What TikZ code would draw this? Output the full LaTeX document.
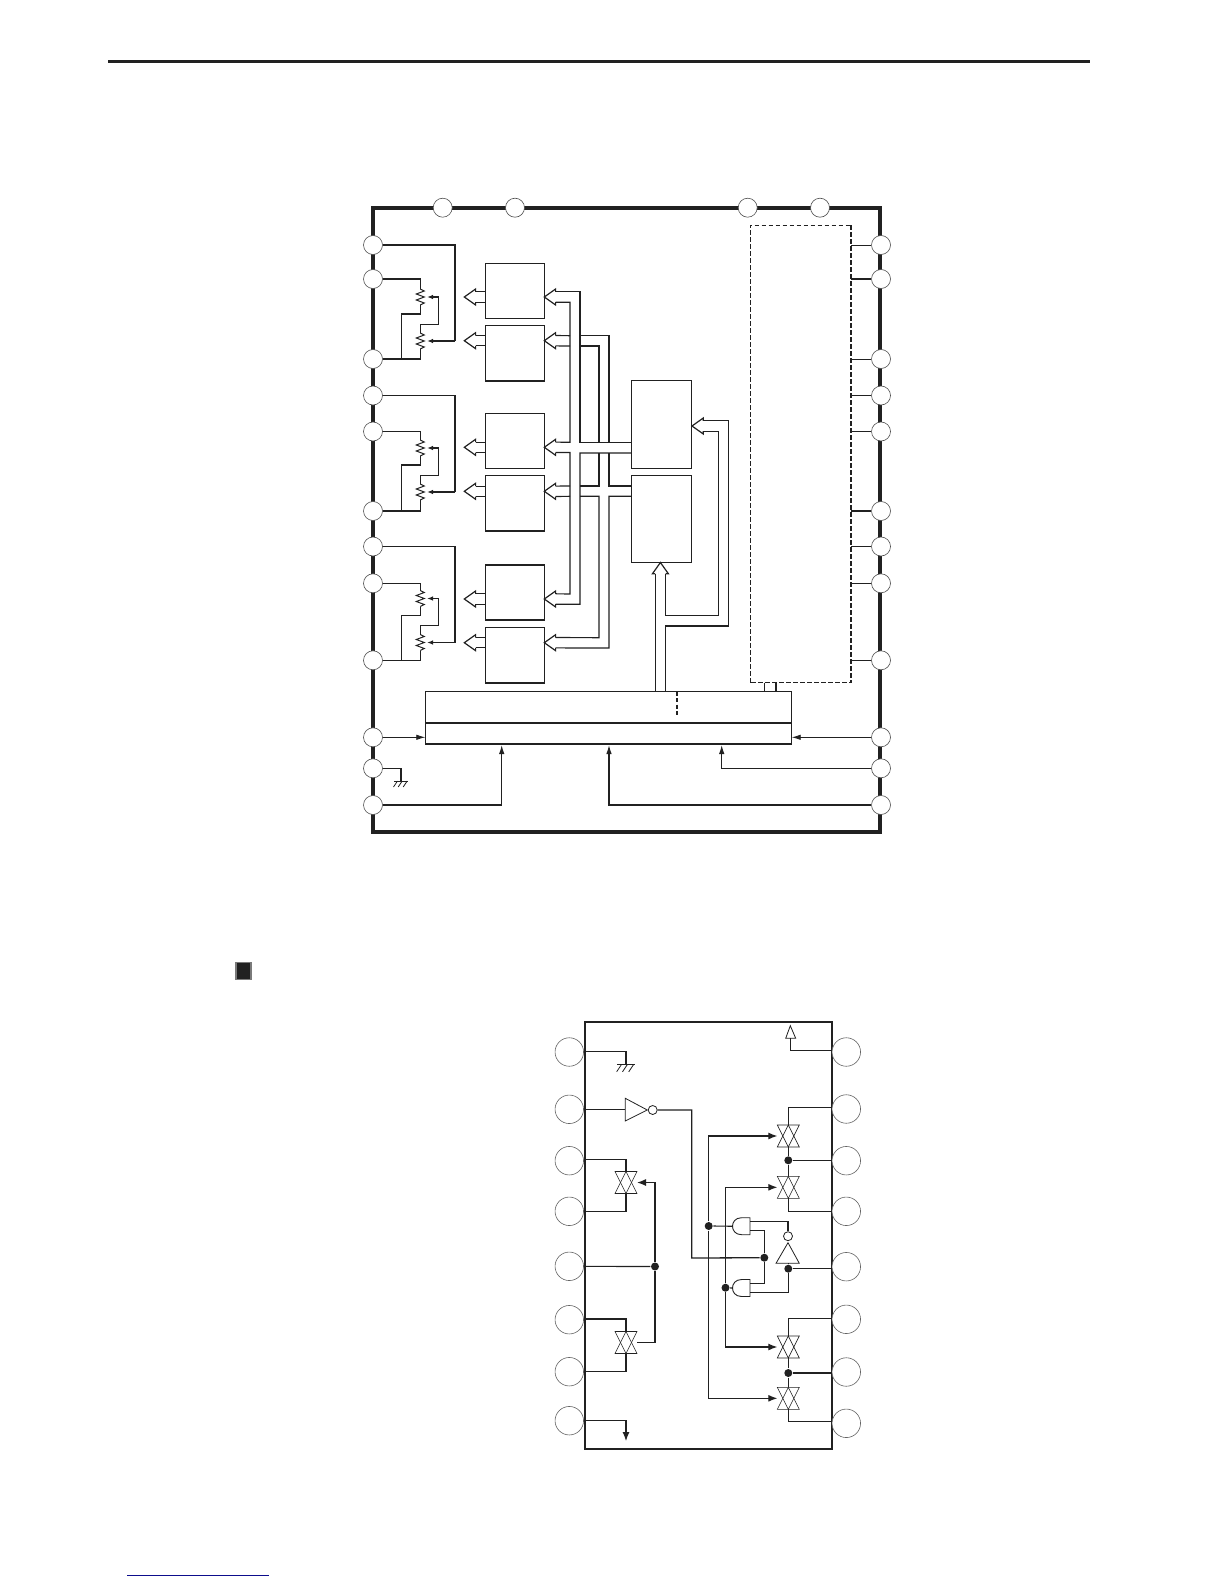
\documentclass[tikz,border=0pt]{standalone}
\usepackage{xcolor}
\usepackage{tikz}
\usetikzlibrary{arrows.meta}
\definecolor{ink}{gray}{0.13}
\definecolor{linkblue}{rgb}{0.05,0.05,0.55}

\begin{document}
\begin{tikzpicture}[x=1pt,y=-1pt,color=ink,line width=1.15pt,line join=miter]
    \tikzstyle{pin}=[circle,draw=ink!80,fill=white,line width=0.6pt,minimum size=19pt,inner sep=0pt]
    \tikzstyle{bigpin}=[circle,draw=ink!70,fill=white,line width=0.6pt,minimum size=28.5pt,inner sep=0pt]
    \tikzstyle{blockbox}=[rectangle,draw,line width=1.1pt,anchor=north west,inner sep=0pt,outer sep=0pt]
    \tikzstyle{dot}=[circle,fill=ink,minimum size=8pt,inner sep=0pt]
    \tikzstyle{bubble}=[circle,draw,fill=white,line width=0.8pt,minimum size=9pt,inner sep=0pt]
    \tikzstyle{tip}=[-{Latex[length=6pt,width=4.5pt]}]
    \tikzstyle{bigtip}=[-{Latex[length=9pt,width=5.5pt]}]
    \tikzstyle{swtip}=[-{Latex[length=9pt,width=7pt]}]
    \tikzset{
        hollowhead/.pic={
            \draw[line width=1.2pt] (11.3,-5.2) -- (11.3,-8) -- (0,0) -- (11.3,8) -- (11.3,5.2);
            \coordinate (-up) at (11.3,-5.2);
            \coordinate (-dn) at (11.3,5.2);
        },
        zigzag/.pic={
            \draw[line width=1pt] (0,-8) -- (4,-6) -- (-4,-3) -- (4,0) -- (-4,3) -- (4,6) -- (0,8);
        },
        earth/.pic={
            \draw[line width=1pt] (-7,0) -- (7,0);
            \foreach \k in {-3.5,1.2,6.2} {\draw[line width=0.8pt] (\k,0) -- (\k-4,6);};
        },
        swgate/.pic={
            \draw[line width=0.6pt] (-11,-11) -- (11,-11) -- (0,11) -- cycle;
            \draw[line width=0.6pt] (-11,11) -- (11,11) -- (0,-11) -- cycle;
            \coordinate (-top) at (0,-11);
            \coordinate (-bot) at (0,11);
            \coordinate (-west) at (-11,0);
            \coordinate (-east) at (11,0);
        },
        andgate/.pic={
            \draw[line width=0.9pt] (8.8,-8.5) -- (0.5,-8.5) .. controls (-6,-8.5) and (-8.7,-4) .. (-8.7,0)
                .. controls (-8.7,4) and (-6,8.5) .. (0.5,8.5) -- (8.8,8.5) -- cycle;
            \coordinate (-in) at (-8.7,0);
            \coordinate (-a) at (8.8,-4.9);
            \coordinate (-b) at (8.8,4.4);
        }
    }
    \useasboundingbox (0,0) rectangle (1224,1584);

    % page furniture
    \coordinate (ruleL) at (108,62);
    \coordinate (ruleR) at (1090,62);
    \draw[line width=3pt] (ruleL) -- (ruleR);
    \node[rectangle,fill=ink,draw=ink!60,minimum width=15pt,minimum height=16.5pt,inner sep=0pt] (bullet) at (243.5,971) {};
    \coordinate (linkL) at (127,1575);
    \coordinate (linkR) at (269,1575);
    \draw[linkblue,line width=1pt] (linkL) -- (linkR);

    % upper package
    \node[rectangle,draw,line width=3.8pt,minimum width=507pt,minimum height=624pt,anchor=north west,inner sep=0pt,outer sep=0pt] (chip) at (373,207.7) {};
    \foreach \i/\x in {1/442.7,2/515,3/747.7,4/820} {
        \node[pin] (pinT\i) at (\x,207.7) {};
    };
    \foreach \i/\y in {1/245,2/279,3/359,4/395.5,5/431.5,6/511,7/546.5,8/583.3,9/660.3,10/737.3,11/768.3,12/805} {
        \node[pin] (pinL\i) at (373,\y) {};
        \node[pin] (pinR\i) at (881,\y) {};
    };

    % volume networks
    \foreach \a/\b/\c/\o/\w in {1/2/3/0/1.1,4/5/6/151/1.1,7/8/9/301.5/1.6} {
        \begin{scope}[shift={(0,\o)}]
            \draw[line width=\w pt] (pinL\a) -| (455,341);
            \draw[tip] (455,341) -- (427,341);
            \draw (pinL\b) -| (420.3,289);
            \pic at (420.3,297) {zigzag};
            \draw (420.3,305) -- (420.3,314) -- (401.7,314) -- (401.7,359);
            \draw (pinL\c) -| (420.3,349);
            \pic at (420.3,341) {zigzag};
            \draw[tip] (420.3,333) -- (420.3,324.3) -- (438.3,324.3) -- (438.3,297) -- (427,297);
        \end{scope}
    };

    % converter blocks
    \foreach \n/\t/\h/\y in {A/263.3/55/297,B/325.3/55.7/340.7,C/413.3/55/447.3,D/475.7/55.3/491.3,E/565/55/599,F/627.3/55.7/642.7} {
        \node[blockbox,minimum width=59pt,minimum height=\h pt] (block\n) at (485.3,\t) {};
        \pic (in\n) at (544.3,\y) {hollowhead};
        \pic (out\n) at (464.3,\y) {hollowhead};
        \draw (out\n-up) -- (out\n-up -| block\n.west);
        \draw (out\n-dn) -- (out\n-dn -| block\n.west);
    };
    \node[blockbox,minimum width=59.6pt,minimum height=88pt] (regU) at (631.7,380.7) {};
    \node[blockbox,minimum width=59.6pt,minimum height=86.6pt] (regL) at (631.7,475.7) {};
    \pic (inU) at (692,426) {hollowhead};
    \pic[rotate=-90] (inL) at (660.4,562.5) {hollowhead};

    % serial interface bar
    \node[blockbox,minimum width=366.4pt,minimum height=52.3pt] (bar) at (425.3,691.7) {};
    \coordinate (barmidL) at (425.3,722.7);
    \coordinate (barmidR) at (791.7,722.7);
    \draw[line width=1.6pt] (barmidL) -- (barmidR);
    \draw[line width=1.6pt] (bar.south west) -- (bar.south east);
    \draw[dash pattern=on 4pt off 2.5pt,line width=1.3pt] (677,691.7) -- (677,717);

    % buses
    \draw (inA-up) -| (580,442.3) -- (regU.west |- 0,442.3);
    \draw (inA-dn) -| (570,442.3) -- (inC-up);
    \draw (inC-dn) -| (570,594) -- (inE-up);
    \draw (regU.west |- 0,453) -| (580,604.3) -- (inE-dn);
    \draw (inB-up) -- (570,335.7);
    \draw (inB-dn) -- (570,346);
    \draw (580,335.7) -| (609,442.3);
    \draw (580,346) -| (599,442.3);
    \draw (inD-up) -- (570,486);
    \draw (inD-dn) -- (570,496.3);
    \draw (599,453) |- (580,486);
    \draw (580,496.3) -| (599,637.7) -- (inF-up);
    \draw (609,453) |- (regL.west |- 0,486);
    \draw (regL.west |- 0,496.3) -| (609,648) -- (inF-dn);
    \draw (inU-up) -| (728.3,626) -| (inL-up |- bar.north);
    \draw (inU-dn) -| (718.3,615.7) -| (inL-up);
    \draw (inL-dn) -- (inL-dn |- bar.north);

    % dashed section
    \node[rectangle,minimum width=100.7pt,minimum height=457.7pt,anchor=north west,inner sep=0pt,outer sep=0pt] (amp) at (750.3,225) {};
    \draw[dash pattern=on 4.5pt off 2.5pt,line width=0.9pt] (amp.south west) -- (amp.north west) -- (amp.north east);
    \draw[dash pattern=on 4.5pt off 2.5pt,line width=1.5pt] (amp.north east) -- (amp.south east) -- (amp.south west);
    \foreach \i/\w in {1/0.8,2/1.5,3/0.8,4/0.8,5/0.8,6/1.5,7/1.5,8/1.5,9/1.5} {
        \draw[line width=\w pt] (pinR\i) -- (pinR\i -| amp.east);
    };
    \draw (764.7,682.7) -- (764.7,691.7);
    \draw (776,682.7) -- (776,691.7);

    % pins to the bar
    \draw[bigtip,line width=0.8pt] (pinL10) -- (pinL10 -| bar.west);
    \draw[bigtip,line width=0.8pt] (pinR10) -- (pinR10 -| bar.east);
    \draw[bigtip] (pinL12) -| (501.7,745);
    \draw[bigtip] (pinR12) -| (609,745);
    \draw[bigtip] (pinR11) -| (721.7,745);
    \draw (pinL11) -| (401,781);
    \pic at (401,781) {earth};

    % lower package
    \node[rectangle,draw,line width=1.7pt,minimum width=247.3pt,minimum height=426.4pt,anchor=north west,inner sep=0pt,outer sep=0pt] (sw) at (585,1022.3) {};
    \foreach \i/\y in {1/1052,2/1109.3,3/1160.7,4/1211.3,5/1266.3,6/1319.7,7/1371.7,8/1420.7} {
        \node[bigpin] (lpin\i) at (569.3,\y) {};
    };
    \foreach \i/\y in {1/1052,2/1109,3/1160.7,4/1211.3,5/1266.7,6/1319.3,7/1372,8/1423.3} {
        \node[bigpin] (rpin\i) at (846.3,\y) {};
    };

    % lower package, left half
    \draw (lpin1.east |- 0,1051.3) -| (626,1064.3);
    \pic[scale=1.25] at (626,1064.3) {earth};
    \draw[line width=0.8pt] (625.3,1098.3) -- (625.3,1121) -- (647.3,1110) -- cycle;
    \node[bubble] (bubA) at (652.7,1110) {};
    \draw (lpin2) -- (625.3,1109.3);
    \pic (swA) at (626,1182.5) {swgate};
    \pic (swB) at (626,1342.5) {swgate};
    \draw[line width=1.4pt] (lpin3.east |- 0,1159.3) -| (swA-top);
    \draw (lpin4) -| (swA-bot);
    \draw (lpin6.east |- 0,1319) -| (swB-top);
    \draw (lpin7) -| (swB-bot);
    \node[dot] (jSel) at (655,1266.5) {};
    \draw (lpin5) -- (jSel);
    \draw[swtip,line width=1.2pt] (jSel) |- (swA-east);
    \draw[line width=1.2pt] (jSel) |- (swB-east);
    \coordinate (dropEnd) at (626,1441);
    \draw[swtip] (lpin8) -| (dropEnd);

    % lower package, right half
    \draw (rpin1.west |- 0,1050.3) -| (790.3,1038.3);
    \draw[line width=0.8pt] (790.3,1025.7) -- (795.7,1038.3) -- (785.7,1038.3) -- cycle;
    \pic (swC) at (788.3,1136) {swgate};
    \pic (swD) at (788.3,1187.3) {swgate};
    \pic (swE) at (788.3,1347) {swgate};
    \pic (swF) at (788.3,1398.3) {swgate};
    \node[dot] (jUp) at (788.3,1160.3) {};
    \node[dot] (jDn) at (788.3,1373) {};
    \node[dot] (jOut) at (788.3,1268.7) {};
    \node[dot] (jCtl) at (764.3,1257.7) {};
    \node[dot] (jLeft) at (708.7,1226) {};
    \node[dot] (jRight) at (725.5,1287.7) {};
    \draw (rpin2.west |- 0,1107.3) -| (swC-top);
    \draw (jUp) -- (swC-bot);
    \draw (jUp) -- (swD-top);
    \draw (jUp) -- (rpin3.west |- jUp);
    \draw (swD-bot) |- (rpin4);
    \draw (rpin6.west |- 0,1318.7) -| (swE-top);
    \draw (jDn) -- (swE-bot);
    \draw (jDn) -- (swF-top);
    \draw (jDn) -- (rpin7.west |- jDn);
    \draw[line width=1.4pt] (swF-bot) |- (rpin8.west |- 0,1421.7);
    \draw[swtip] (jLeft) |- (swC-west);
    \draw[swtip] (jLeft) |- (swF-west);
    \draw[swtip] (jRight) |- (swD-west);
    \draw[swtip] (jRight) |- (swE-west);
    \pic (gateU) at (741.2,1226.2) {andgate};
    \pic (gateL) at (741.2,1288) {andgate};
    \draw (jLeft) -- (gateU-in);
    \draw (jRight) -- (gateL-in);
    \draw[line width=1.3pt] (bubA) -| (691.7,1258) -- (jCtl);
    \draw (gateU-b) -| (jCtl);
    \draw (gateL-a) -| (jCtl);
    \node[bubble] (bubB) at (788,1236.2) {};
    \draw[line width=0.8pt] (788,1242.7) -- (799.3,1263.3) -- (776,1263.3) -- cycle;
    \draw (gateU-a) -| (bubB);
    \draw (gateL-b) -| (jOut);
    \draw (jOut) -- (788.3,1263.3);
    \draw (jOut) -- (rpin5.west |- jOut);
\end{tikzpicture}
\end{document}
